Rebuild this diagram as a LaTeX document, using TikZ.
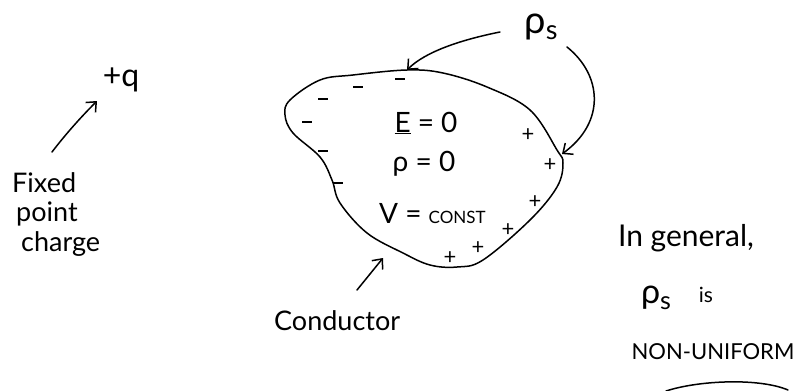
\documentclass[tikz,border=0pt]{standalone}
\usepackage{fontspec}
\setmainfont{Lato}
\usetikzlibrary{arrows.meta}
\tikzset{
  ink/.style={line width=1.5pt, line cap=round, line join=round},
  arr/.style={ink, -{Straight Barb[length=8pt,width=14pt,line width=1.5pt]}},
  hand/.style={inner sep=0pt, font=\fontsize{27}{27}\selectfont},
  sign/.style={inner sep=0pt, font=\fontsize{22}{22}\selectfont},
}
\begin{document}
\begin{tikzpicture}[x=1pt,y=-1pt]
\useasboundingbox (0,0) rectangle (796,391);
\fill[white] (0,0) rectangle (796,391);

% conductor outline
\draw[ink] plot[smooth cycle, tension=0.6] coordinates {
 (320,80) (290,100) (285,115) (293,133) (320,157) (332,180) (340,203)
 (367,233) (403,253) (430,265) (457,267) (483,260) (530,220) (557,187)
 (563,163) (557,150) (530,110) (487,87) (443,73) (407,70) (353,75)};

\coordinate (ctop) at (407,70);
\coordinate (cright) at (562,154);
\coordinate (cbot) at (383,258);

% inside texts
\node[hand, font=\fontsize{28}{28}\selectfont] (E) at (426,123) {\underline{E} = 0};
\node[hand, font=\fontsize{28}{28}\selectfont] (rho) at (424,164) {ρ = 0};
\node[hand, anchor=base west, font=\fontsize{28}{28}\selectfont] (V) at (379,223) {V = {\fontsize{17}{17}\selectfont CONST}};

% minus signs
\foreach \i/\p in {1/{(323,99)},2/{(358,87)},3/{(400,79)},4/{(307,122)},5/{(323,151)},6/{(338,183)}}
  \node[inner sep=0pt] (m\i) at \p {\rule[0pt]{10pt}{1.5pt}};
% plus signs
\foreach \i/\p in {1/{(528,135)},2/{(550,165)},3/{(535,202)},4/{(508,230)},5/{(478,248)},6/{(450,258)}}
  \node[sign] (p\i) at \p {+};

% rho_s label
\node[inner sep=0pt] (rhos) at (541,27) {{\fontsize{38}{38}\selectfont ρ}\raisebox{-6pt}{\fontsize{27}{27}\selectfont s}};
\coordinate (a1s) at (500,32);
\coordinate (a2s) at (567,47);
\draw[arr] (a1s) .. controls (460,40) and (425,52) .. (ctop);
\draw[arr] (a2s) .. controls (602,75) and (606,122) .. (cright);

% point charge
\node[hand, font=\fontsize{32}{32}\selectfont] (q) at (121,80) {+q};
\coordinate (qs) at (52,152);
\coordinate (qe) at (97,101);
\draw[arr] (qs) .. controls (65,135) and (80,118) .. (qe);
\node[hand, anchor=west] (fixed) at (12,183) {Fixed};
\node[hand, anchor=west] (point) at (16,214) {point};
\node[hand, anchor=west] (charge) at (21,244) {charge};

% conductor label
\node[hand, anchor=west] (cond) at (274,321) {Conductor};
\coordinate (cs) at (357,290);
\draw[arr] (cs) -- (cbot);

% right note
\node[hand, font=\fontsize{30}{30}\selectfont] (gen) at (686,238) {In general,};
\node[inner sep=0pt] (rhos2) at (656,298) {{\fontsize{34}{34}\selectfont ρ}\raisebox{-6pt}{\fontsize{25}{25}\selectfont s}};
\node[inner sep=0pt, font=\fontsize{21}{21}\selectfont] (is) at (706,295) {is};
\node[hand, font=\fontsize{22}{22}\selectfont] (nonu) at (713,352) {NON-UNIFORM};
\coordinate (u1) at (666,391);
\coordinate (u2) at (788,390);
\draw[ink] (u1) .. controls (700,380) and (760,378) .. (u2);
\end{tikzpicture}
\end{document}
